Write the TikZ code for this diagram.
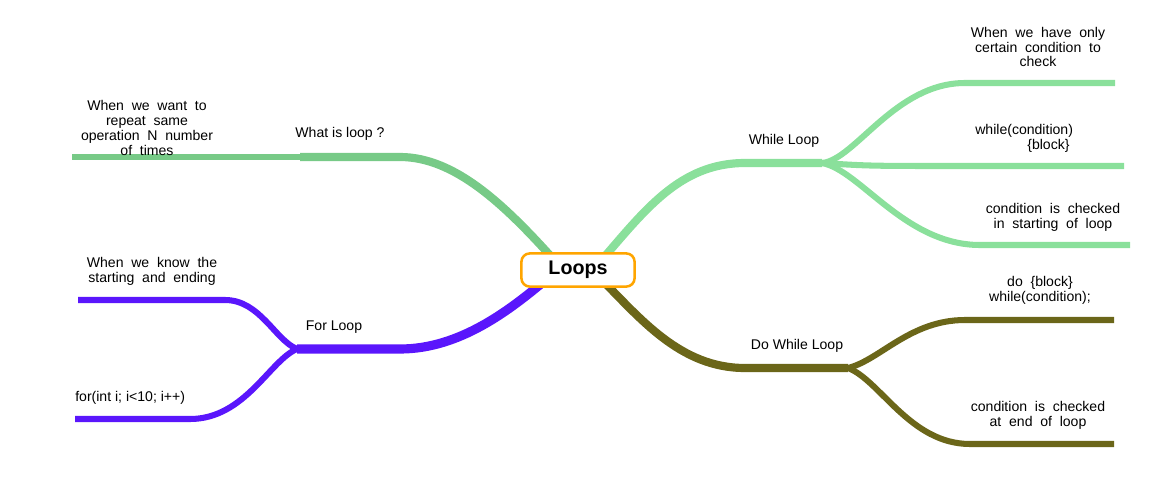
\documentclass[tikz,border=0pt]{standalone}
\usepackage{fontspec}
\setmainfont{Liberation Sans}
\usetikzlibrary{backgrounds,calc}

\definecolor{whatgreen}{RGB}{119,202,135}
\definecolor{whilegreen}{RGB}{138,224,155}
\definecolor{forpurple}{RGB}{90,22,252}
\definecolor{doolive}{RGB}{107,102,25}
\definecolor{rootorange}{RGB}{255,165,0}

\newcommand{\widespacing}{\spaceskip=0.55em\relax}

\tikzset{
  root/.style={draw=rootorange, line width=1.8pt, rounded corners=6pt, fill=white,
    minimum width=2.83cm, minimum height=0.83cm, inner sep=0pt,
    font=\fontsize{14}{16}\selectfont\bfseries},
  branch/.style={line width=5.8pt},
  twig/.style={line width=4.3pt},
  branchtext/.style={inner sep=0pt, font=\fontsize{10}{10.6}\selectfont},
  leaftext/.style={branchtext, align=center},
  wide/.style={font=\fontsize{10}{10.6}\selectfont\widespacing}
}

\begin{document}
\begin{tikzpicture}[x=0.025cm, y=-0.025cm]
\useasboundingbox (0,0) rectangle (1156,480);

\node[root] (loops) at (578,270) {Loops};

% junctions and free ends
\coordinate (what) at (300,157);
\coordinate (whatend) at (72,157);
\coordinate (for) at (297,349);
\coordinate (forend1) at (78,300);
\coordinate (forend2) at (75,419);
\coordinate (while) at (822,163);
\coordinate (whileend1) at (1115,83);
\coordinate (whileend2) at (1124,166);
\coordinate (whileend3) at (1130,245);
\coordinate (dowhile) at (848,368);
\coordinate (doend1) at (1114,320);
\coordinate (doend2) at (1114,444);

\begin{scope}[on background layer]
\draw[branch, whatgreen] ($(loops)+(-22,-8)$) .. controls (505,205) and (455,157) .. (400,157) -- (what);
\draw[twig, whatgreen] (what) -- (whatend);

\draw[branch, whilegreen] ($(loops)+(22,-8)$) .. controls (645,210) and (680,163) .. (745,163) -- (while);
\draw[twig, whilegreen] (while) .. controls (855,160) and (895,83) .. (965,83) -- (whileend1);
\draw[twig, whilegreen] (while) .. controls (870,166) .. (960,166) -- (whileend2);
\draw[twig, whilegreen] (while) .. controls (860,170) and (905,245) .. (980,245) -- (whileend3);

\draw[branch, doolive] ($(loops)+(22,8)$) .. controls (640,318) and (680,368) .. (745,368) -- (dowhile);
\draw[twig, doolive] (dowhile) .. controls (880,360) and (910,320) .. (965,320) -- (doend1);
\draw[twig, doolive] (dowhile) .. controls (880,380) and (910,444) .. (970,444) -- (doend2);

\draw[branch, forpurple, line width=6.5pt] ($(loops)+(-30,8)$) .. controls (510,310) and (460,349) .. (400,349) -- (for);
\draw[twig, forpurple] (for) .. controls (275,340) and (260,300) .. (225,300) -- (forend1);
\draw[twig, forpurple] (for) .. controls (270,360) and (245,419) .. (190,419) -- (forend2);
\end{scope}

% labels
\node[branchtext] (whatlbl) at (340,134) {What is loop ?};
\node[leaftext, wide] (whatleaf) at (147,128) {When we want to\\repeat same\\operation N number\\of times};
\node[branchtext] (forlbl) at (334,327) {For Loop};
\node[leaftext, wide] (forleaf1) at (152,271) {When we know the\\starting and ending};
\node[branchtext, anchor=west] (forleaf2) at (75,398) {for(int i; i<10; i++)};
\node[branchtext] (whilelbl) at (784,141) {While Loop};
\node[leaftext, wide] (whileleaf1) at (1038,47) {When we have only\\certain condition to\\check};
\node[branchtext, align=left, anchor=west] (whileleaf2) at (975,138) {while(condition)\\\hspace*{37pt}\{block\}};
\node[leaftext, wide] (whileleaf3) at (1053,217) {condition is checked\\in starting of loop};
\node[branchtext] (dolbl) at (797,346) {Do While Loop};
\node[leaftext, wide] (doleaf1) at (1040,290) {do \{block\}\\while(condition);};
\node[leaftext, wide] (doleaf2) at (1038,415) {condition is checked\\at end of loop};
\end{tikzpicture}
\end{document}
